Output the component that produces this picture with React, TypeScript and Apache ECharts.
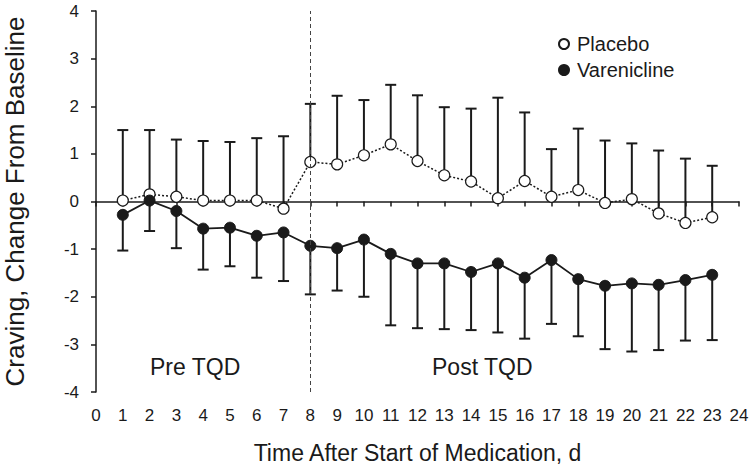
import React, { useEffect, useRef } from "react";
import * as echarts from "echarts";

const days = [1, 2, 3, 4, 5, 6, 7, 8, 9, 10, 11, 12, 13, 14, 15, 16, 17, 18, 19, 20, 21, 22, 23];
const placeboMean = [0.02, 0.15, 0.1, 0.02, 0.02, 0.02, -0.15, 0.83, 0.78, 0.97, 1.2, 0.85, 0.55, 0.42, 0.07, 0.43, 0.1, 0.24, -0.03, 0.05, -0.25, -0.45, -0.33];
const placeboUpper = [1.5, 1.5, 1.3, 1.27, 1.25, 1.33, 1.37, 2.05, 2.22, 2.13, 2.45, 2.23, 1.98, 1.95, 2.18, 1.87, 1.1, 1.53, 1.28, 1.22, 1.07, 0.9, 0.75];
const vareniclineMean = [-0.28, 0.02, -0.2, -0.57, -0.55, -0.72, -0.65, -0.93, -0.98, -0.8, -1.1, -1.3, -1.3, -1.48, -1.3, -1.6, -1.23, -1.63, -1.77, -1.72, -1.75, -1.65, -1.54];
const vareniclineLower = [-1.03, -0.62, -0.98, -1.43, -1.36, -1.6, -1.67, -1.95, -1.87, -2.0, -2.6, -2.66, -2.68, -2.7, -2.75, -2.88, -2.57, -2.83, -3.1, -3.15, -3.12, -2.92, -2.91];
const phaseLabels = ["Pre TQD", "Post TQD"];
const quitDay = 8;

const INK = "#1a1a1a";
const FONT = "'Liberation Sans', Arial, sans-serif";

function errorRender(params: any, api: any) {
  const x = api.value(0);
  const m = api.value(1);
  const b = api.value(2);
  const p1 = api.coord([x, m]);
  const p2 = api.coord([x, b]);
  const hw = 5.5;
  return {
    type: "group",
    children: [
      { type: "line", shape: { x1: p1[0], y1: p1[1], x2: p2[0], y2: p2[1] }, style: { stroke: INK, lineWidth: 2 } },
      { type: "line", shape: { x1: p2[0] - hw, y1: p2[1], x2: p2[0] + hw, y2: p2[1] }, style: { stroke: INK, lineWidth: 2 } },
    ],
  };
}

export default function App() {
  const ref = useRef<HTMLDivElement>(null);
  useEffect(() => {
    const chart = echarts.init(ref.current!, null, { renderer: "svg" });
    const option: any = {
      animation: false,
      backgroundColor: "#fff",
      textStyle: { fontFamily: FONT },
      grid: { left: 96, right: 11, top: 11, bottom: 76, containLabel: false, outerBoundsMode: "none" },
      legend: {
        orient: "vertical",
        left: 553,
        top: 29,
        icon: "circle",
        itemWidth: 10,
        itemHeight: 10,
        itemGap: 6,
        textStyle: { fontSize: 20, color: INK, fontFamily: FONT, padding: [0, 0, 0, 3] },
        data: ["Placebo", "Varenicline"],
      },
      xAxis: {
        type: "value",
        min: 0,
        max: 24,
        interval: 1,
        name: "Time After Start of Medication, d",
        nameLocation: "middle",
        nameGap: 49,
        nameTextStyle: { fontSize: 23, color: INK, fontFamily: FONT },
        axisLine: { lineStyle: { color: INK, width: 1.5 } },
        axisTick: { lineStyle: { color: INK, width: 1.5 }, length: 5 },
        axisLabel: { fontSize: 17, color: INK, margin: 15, fontFamily: FONT },
        splitLine: { show: false },
      },
      yAxis: {
        type: "value",
        min: -4,
        max: 4,
        interval: 1,
        name: "Craving, Change From Baseline",
        nameLocation: "middle",
        nameGap: 68,
        nameTextStyle: { fontSize: 26, color: INK, fontFamily: FONT },
        axisLine: { show: true, lineStyle: { color: INK, width: 1.5 } },
        axisTick: { show: true, lineStyle: { color: INK, width: 1.5 }, length: 5 },
        axisLabel: { fontSize: 17, color: INK, margin: 17, fontFamily: FONT },
        splitLine: { show: false },
      },
      series: [
        {
          name: "PlaceboErr",
          type: "custom",
          renderItem: errorRender,
          data: days.map((d, i) => [d, placeboMean[i], placeboUpper[i]]),
          z: 1,
          silent: true,
        },
        {
          name: "VareniclineErr",
          type: "custom",
          renderItem: errorRender,
          data: days.map((d, i) => [d, vareniclineMean[i], vareniclineLower[i]]),
          z: 1,
          silent: true,
        },
        {
          name: "Placebo",
          type: "line",
          data: days.map((d, i) => [d, placeboMean[i]]),
          symbol: "circle",
          symbolSize: 11,
          lineStyle: { color: INK, width: 1.5, type: [2, 2] },
          itemStyle: { color: "#fff", borderColor: INK, borderWidth: 1.2 },
          z: 3,
          markLine: {
            silent: true,
            symbol: "none",
            label: { show: false },
            lineStyle: { color: "#444", type: [4, 3], width: 1 },
            data: [{ xAxis: quitDay }],
          },
        },
        {
          name: "Varenicline",
          type: "line",
          data: days.map((d, i) => [d, vareniclineMean[i]]),
          symbol: "circle",
          symbolSize: 11,
          lineStyle: { color: INK, width: 1.8 },
          itemStyle: { color: INK, borderColor: INK, borderWidth: 1 },
          z: 3,
        },
      ],
      graphic: [
        { type: "text", x: 150, y: 367, style: { text: phaseLabels[0], fontSize: 23, fill: INK, fontFamily: FONT, align: "left", verticalAlign: "middle" } },
        { type: "text", x: 432, y: 367, style: { text: phaseLabels[1], fontSize: 23, fill: INK, fontFamily: FONT, align: "left", verticalAlign: "middle" } },
      ],
    };
    chart.setOption(option);
    return () => chart.dispose();
  }, []);
  return <div ref={ref} style={{ position: "fixed", left: 0, top: 0, width: 750, height: 468 }} />;
}
